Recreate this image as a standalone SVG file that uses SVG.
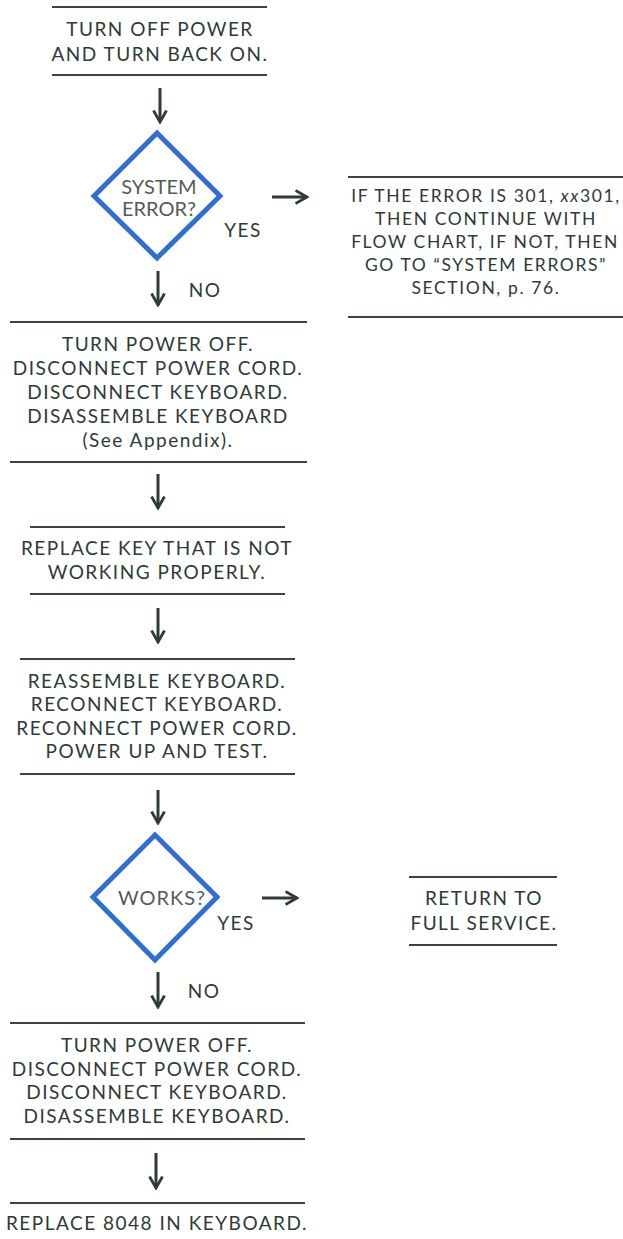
<svg xmlns="http://www.w3.org/2000/svg" width="623" height="1239" viewBox="0 0 623 1239">
<style>
.t{font-family:Lato,"Noto Sans","Liberation Sans",sans-serif;font-size:19px;fill:#2e3b36;text-anchor:middle;letter-spacing:1.5px}
.r{font-size:17.5px;letter-spacing:1.6px}
.q{fill:#555a58;font-size:20px;letter-spacing:0px}
.rule{stroke:#3a4541;stroke-width:2;fill:none}
.dia{fill:#ffffff;stroke:#2f6fd2;stroke-width:5;stroke-linejoin:miter}
.c{stroke:#2e3b36;stroke-width:3;fill:none}
</style>
<defs>
<marker id="ah" viewBox="0 0 14 16" refX="12.5" refY="8" markerWidth="14" markerHeight="16" markerUnits="userSpaceOnUse" orient="auto">
<path d="M1,1.5 L12.5,8 L1,14.5" fill="none" stroke="#2e3b36" stroke-width="2.8"/>
</marker>
</defs>
<rect width="623" height="1239" fill="#ffffff"/>

<g id="n1">
<line class="rule" x1="52" y1="7" x2="267" y2="7"/>
<text class="t" x="160" y="36">TURN OFF POWER</text>
<text class="t" x="160" y="61">AND TURN BACK ON.</text>
<line class="rule" x1="52" y1="75" x2="267" y2="75"/>
</g>

<g id="d1">
<polygon class="dia" points="157,133 220,196 157,258 94,196"/>
<text class="t q" x="159" y="194">SYSTEM</text>
<text class="t q" x="159" y="216">ERROR?</text>
</g>

<g id="n2">
<line class="rule" x1="348" y1="177" x2="623" y2="177"/>
<text class="t r" x="486" y="202">IF THE ERROR IS 301, <tspan font-style="italic">xx</tspan>301,</text>
<text class="t r" x="486" y="225">THEN CONTINUE WITH</text>
<text class="t r" x="485" y="248">FLOW CHART, IF NOT, THEN</text>
<text class="t r" x="486" y="271">GO TO “SYSTEM ERRORS”</text>
<text class="t r" x="486" y="294">SECTION, p. 76.</text>
<line class="rule" x1="348" y1="317" x2="623" y2="317"/>
</g>

<g id="n3">
<line class="rule" x1="10" y1="322" x2="307" y2="322"/>
<text class="t" x="158" y="351">TURN POWER OFF.</text>
<text class="t" x="158" y="375">DISCONNECT POWER CORD.</text>
<text class="t" x="158" y="399">DISCONNECT KEYBOARD.</text>
<text class="t" x="158" y="423">DISASSEMBLE KEYBOARD</text>
<text class="t" x="158" y="447">(See Appendix).</text>
<line class="rule" x1="10" y1="462" x2="307" y2="462"/>
</g>

<g id="n4">
<line class="rule" x1="30" y1="527" x2="285" y2="527"/>
<text class="t" x="157" y="555">REPLACE KEY THAT IS NOT</text>
<text class="t" x="157" y="579">WORKING PROPERLY.</text>
<line class="rule" x1="30" y1="594" x2="285" y2="594"/>
</g>

<g id="n5">
<line class="rule" x1="20" y1="659" x2="295" y2="659"/>
<text class="t" x="157" y="688">REASSEMBLE KEYBOARD.</text>
<text class="t" x="157" y="711">RECONNECT KEYBOARD.</text>
<text class="t" x="157" y="735">RECONNECT POWER CORD.</text>
<text class="t" x="157" y="758">POWER UP AND TEST.</text>
<line class="rule" x1="20" y1="774" x2="295" y2="774"/>
</g>

<g id="d2">
<polygon class="dia" points="155,835 217,897 155,960 93,897"/>
<text class="t q" x="162" y="905" style="letter-spacing:1px">WORKS?</text>
</g>

<g id="n6">
<line class="rule" x1="409" y1="877" x2="557" y2="877"/>
<text class="t" x="484" y="905">RETURN TO</text>
<text class="t" x="484" y="930">FULL SERVICE.</text>
<line class="rule" x1="409" y1="945" x2="557" y2="945"/>
</g>

<g id="n7">
<line class="rule" x1="10" y1="1023" x2="305" y2="1023"/>
<text class="t" x="157" y="1052">TURN POWER OFF.</text>
<text class="t" x="157" y="1076">DISCONNECT POWER CORD.</text>
<text class="t" x="157" y="1099">DISCONNECT KEYBOARD.</text>
<text class="t" x="157" y="1123">DISASSEMBLE KEYBOARD.</text>
<line class="rule" x1="10" y1="1139" x2="305" y2="1139"/>
</g>

<g id="n8">
<line class="rule" x1="10" y1="1203" x2="305" y2="1203"/>
<text class="t" x="157" y="1230">REPLACE 8048 IN KEYBOARD.</text>
</g>

<g id="connectors">
<line class="c" x1="160" y1="88" x2="160" y2="122" marker-end="url(#ah)"/>
<line class="c" x1="272" y1="197" x2="307" y2="197" marker-end="url(#ah)"/>
<text class="t" x="243" y="237">YES</text>
<line class="c" x1="158" y1="271" x2="158" y2="305" marker-end="url(#ah)"/>
<text class="t" x="205" y="297">NO</text>
<line class="c" x1="158" y1="474" x2="158" y2="508" marker-end="url(#ah)"/>
<line class="c" x1="158" y1="608" x2="158" y2="642" marker-end="url(#ah)"/>
<line class="c" x1="158" y1="790" x2="158" y2="823" marker-end="url(#ah)"/>
<line class="c" x1="262" y1="898" x2="297" y2="898" marker-end="url(#ah)"/>
<text class="t" x="236" y="930">YES</text>
<line class="c" x1="158" y1="972" x2="158" y2="1007" marker-end="url(#ah)"/>
<text class="t" x="204" y="998">NO</text>
<line class="c" x1="156" y1="1153" x2="156" y2="1188" marker-end="url(#ah)"/>
</g>
</svg>
